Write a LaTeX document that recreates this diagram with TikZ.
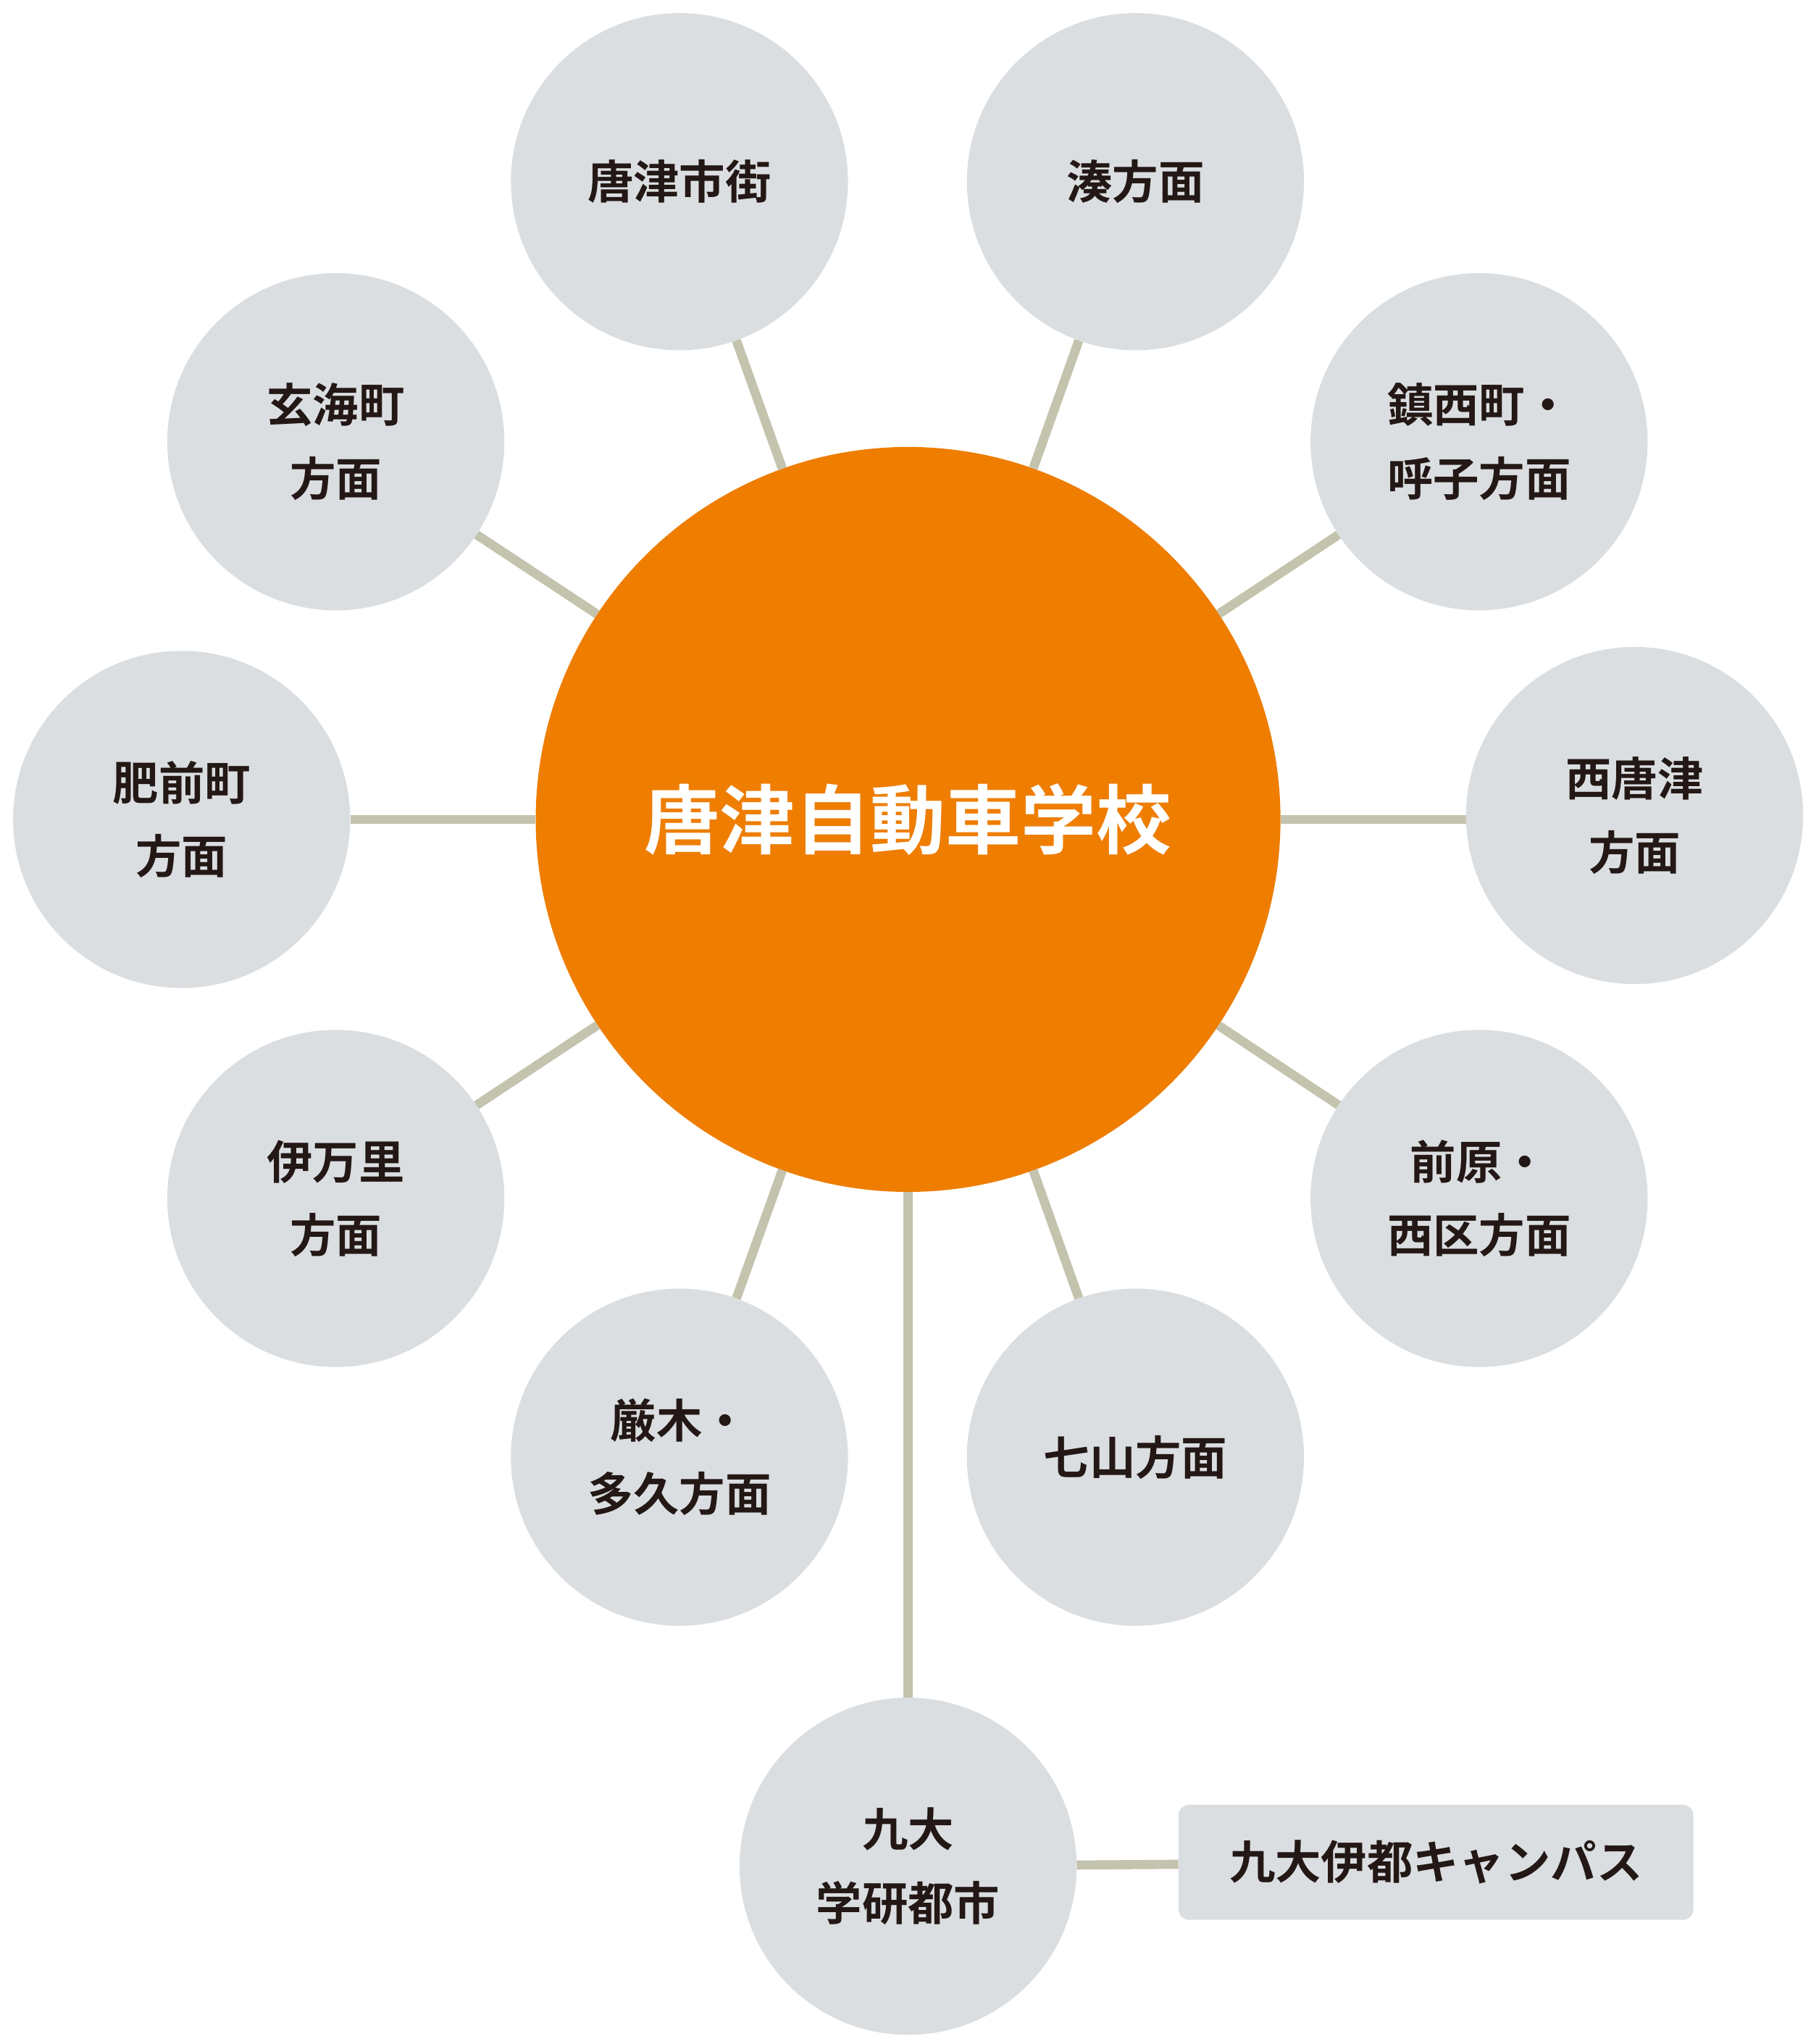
\documentclass[tikz,border=0pt]{standalone}
\usepackage{fontspec}
\newfontfamily\cjk{Noto Sans CJK JP}[UprightFont=* Bold]
\definecolor{circ}{HTML}{DBDEE1}
\definecolor{orng}{HTML}{EE7D00}
\definecolor{lnk}{HTML}{C4C3AE}
\definecolor{txt}{HTML}{231815}
\begin{document}
\begin{tikzpicture}[x=0.05cm,y=-0.05cm,
  sat/.style={circle,fill=circ,minimum size=258*0.05cm,inner sep=0pt,align=center,
    font=\cjk\fontsize{50}{80}\selectfont,text=txt},
  hub/.style={circle,fill=orng,minimum size=570*0.05cm,inner sep=0pt,
    font=\cjk\fontsize{82}{90}\selectfont,text=white},
  campus/.style={rounded corners=0.4cm,fill=circ,minimum width=394*0.05cm,minimum height=88*0.05cm,
    inner sep=0pt,font=\cjk\fontsize{50}{60}\selectfont,text=txt},
  link/.style={draw=lnk,line width=0.35cm}]
\useasboundingbox (0,0) rectangle (1386,1564);
\node[hub] (c) at (695,627) {唐津自動車学校};
\node[sat] (a1) at (520,139) {唐津市街};
\node[sat] (a2) at (869,139) {湊方面};
\node[sat] (a3) at (257,338) {玄海町\\方面};
\node[sat] (a4) at (1132,338) {鎮西町・\\呼子方面};
\node[sat] (a5) at (139,627) {肥前町\\方面};
\node[sat] (a6) at (1251,624) {西唐津\\方面};
\node[sat] (a7) at (257,917) {伊万里\\方面};
\node[sat] (a8) at (1132,917) {前原・\\西区方面};
\node[sat] (a9) at (520,1115) {厳木・\\多久方面};
\node[sat] (a10) at (869,1115) {七山方面};
\node[sat] (a11) at (695,1428) {九大\\学研都市};
\node[campus] (b) at (1099,1425) {九大伊都キャンパス};
\foreach \n in {a1,a2,a3,a4,a5,a7,a8,a9,a10,a11} \draw[link] (c) -- (\n);
\draw[link] (c.east) -- (a6.west |- c.east);
\draw[link] (a11) -- (b);
\end{tikzpicture}
\end{document}
